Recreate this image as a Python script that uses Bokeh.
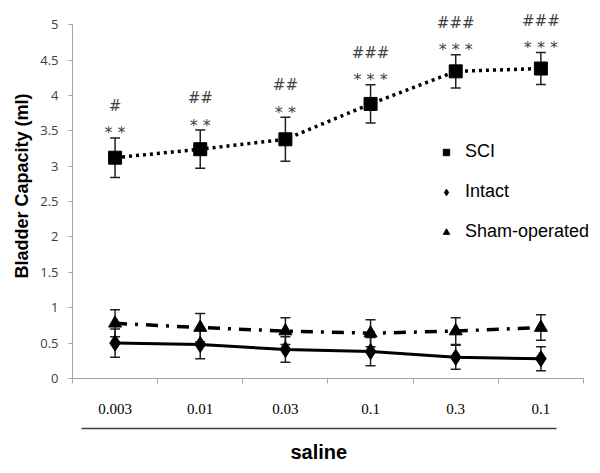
from bokeh.plotting import figure
from bokeh.models import (Range1d, FixedTicker, LinearAxis, ColumnDataSource, Whisker,
                          TeeHead, Legend, LegendItem, Title)
from bokeh.core.properties import value
from bokeh.embed import file_html
from bokeh.resources import INLINE

# ---- data ----
doses = ["0.003", "0.01", "0.03", "0.1", "0.3", "0.1"]
sci_mean = [3.12, 3.24, 3.38, 3.88, 4.34, 4.38]
sci_sem = [0.28, 0.27, 0.31, 0.27, 0.235, 0.225]
intact_mean = [0.50, 0.48, 0.41, 0.38, 0.30, 0.28]
intact_sem = [0.20, 0.20, 0.18, 0.20, 0.17, 0.17]
sham_mean = [0.78, 0.72, 0.67, 0.64, 0.67, 0.72]
sham_sem = [0.19, 0.20, 0.19, 0.19, 0.19, 0.18]
stars = ["* *", "* *", "* *", "* * *", "* * *", "* * *"]
hashes = ["#", "##", "##", "###", "###", "###"]
y_ticks = [0, 0.5, 1, 1.5, 2, 2.5, 3, 3.5, 4, 4.5, 5]
y_tick_labels = ["0", "0.5", "1", "1.5", "2", "2.5", "3", "3.5", "4", "4.5", "5"]
x_title = "saline"
y_title = "Bladder  Capacity (ml)"

n = len(doses)
xs = [i + 0.5 for i in range(n)]

p = figure(width=600, height=473, x_range=Range1d(0, n + 0.2), y_range=Range1d(0, 5.2),
           output_backend="svg", toolbar_location=None,
           min_border_left=72, min_border_right=0, min_border_top=10, min_border_bottom=95)
p.outline_line_color = None
p.grid.visible = False

axis_gray = "#a6a6a6"
label_gray = "#404040"

# x axis: category labels at centres, boundary ticks as minor ticks
xa = p.xaxis[0]
xa.bounds = (0, n)
xa.ticker = FixedTicker(ticks=xs, minor_ticks=list(range(n + 1)))
xa.major_label_overrides = {x: d for x, d in zip(xs, doses)}
xa.major_tick_out = 0
xa.major_tick_in = 0
xa.minor_tick_out = 5
xa.minor_tick_in = 0
xa.axis_line_color = axis_gray
xa.minor_tick_line_color = axis_gray
xa.major_label_standoff = 20
xa.major_label_text_font = "Liberation Serif"
xa.major_label_text_font_size = "15px"
xa.major_label_text_color = "black"
xa.axis_label = " "
xa.axis_label_standoff = 0
xa.axis_label_text_font_size = "8px"

# second bottom axis: the bar above "saline"
xb = LinearAxis(ticker=FixedTicker(ticks=[]), bounds=(0.1, 5.68))
xb.axis_line_color = "#404040"
xb.axis_line_width = 1.5
xb.major_tick_out = 0
xb.major_tick_in = 0
xb.minor_tick_out = 0
xb.minor_tick_in = 0
xb.major_label_text_font_size = "0px"
p.add_layout(xb, "below")

xt = Title(text=x_title, align="left", offset=218, standoff=21,
           text_font="Liberation Sans", text_font_style="bold",
           text_font_size="20px", text_color="black")
p.add_layout(xt, "below")

# y axis
ya = p.yaxis[0]
ya.ticker = FixedTicker(ticks=y_ticks)
ya.bounds = (0, 5)
ya.major_label_overrides = {t: l for t, l in zip(y_ticks, y_tick_labels)}
ya.axis_line_color = axis_gray
ya.major_tick_line_color = axis_gray
ya.major_tick_out = 4
ya.major_tick_in = 0
ya.minor_tick_line_color = None
ya.major_label_standoff = 10
ya.major_label_text_font = "Open Sans"
ya.major_label_text_font_size = "13px"
ya.major_label_text_color = label_gray

yt = Title(text=y_title, align="left", offset=100, standoff=12,
           text_font="Liberation Sans", text_font_style="bold",
           text_font_size="18px", text_color="black")
p.add_layout(yt, "left")

def add_series(mean, sem, marker, size, dash, lw):
    src = ColumnDataSource(dict(x=xs, y=mean,
                                lo=[m - s for m, s in zip(mean, sem)],
                                hi=[m + s for m, s in zip(mean, sem)]))
    p.add_layout(Whisker(base="x", upper="hi", lower="lo", source=src,
                         line_color="#202020", line_width=1.5,
                         upper_head=TeeHead(size=10, line_color="#202020", line_width=1.5),
                         lower_head=TeeHead(size=10, line_color="#202020", line_width=1.5)))
    p.line("x", "y", source=src, line_color="black", line_width=lw, line_dash=dash)
    r = p.scatter("x", "y", source=src, marker=marker, size=size,
                  fill_color="black", line_color="black")
    return r

r_int = add_series(intact_mean, intact_sem, "diamond", 16, "solid", 3)
r_sham = add_series(sham_mean, sham_sem, "triangle", 13, "12 8 3 8", 3.5)
r_sci = add_series(sci_mean, sci_sem, "square", 13, "3 4", 3.5)

# significance marks
tops = [m + s for m, s in zip(sci_mean, sci_sem)]
p.text(x=xs, y=tops, text=stars, text_align="center", text_baseline="alphabetic",
       y_offset=-5, text_font=value("DejaVu Sans"), text_font_size="16px",
       text_color=label_gray)
p.text(x=xs, y=tops, text=hashes, text_align="center", text_baseline="alphabetic",
       y_offset=-32, text_font=value("DejaVu Sans"), text_font_size="15px",
       text_color=label_gray)

legend = Legend(items=[LegendItem(label="SCI", renderers=[r_sci]),
                       LegendItem(label="Intact", renderers=[r_int]),
                       LegendItem(label="Sham-operated", renderers=[r_sham])],
                location=(366, 136))
legend.border_line_color = None
legend.background_fill_alpha = 0
legend.padding = 0
legend.margin = 0
legend.glyph_width = 16
legend.glyph_height = 16
legend.label_standoff = 11
legend.spacing = 19
legend.label_text_font = "Liberation Sans"
legend.label_text_font_size = "18px"
legend.label_text_color = "black"
p.add_layout(legend)

open("out.html", "w").write(file_html(p, INLINE))
